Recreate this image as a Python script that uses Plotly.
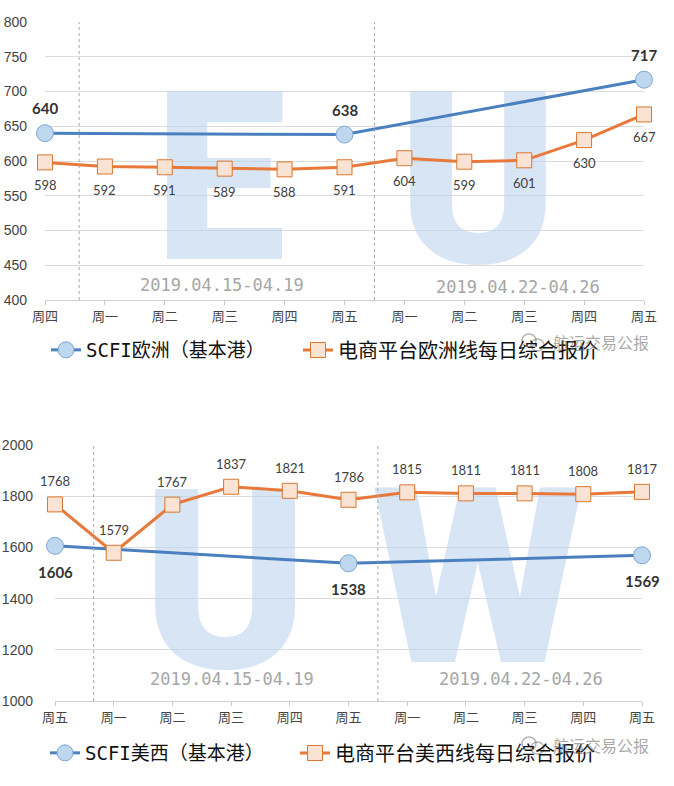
import plotly.graph_objects as go

# top chart: Europe
days_top = ['周四', '周一', '周二', '周三', '周四', '周五', '周一', '周二', '周三', '周四', '周五']
scfi_eu = [640, None, None, None, None, 638, None, None, None, None, 717]
ecom_eu = [598, 592, 591, 589, 588, 591, 604, 599, 601, 630, 667]
names_eu = ['SCFI欧洲（基本港）', '电商平台欧洲线每日综合报价']

# bottom chart: US west coast
days_bottom = ['周五', '周一', '周二', '周三', '周四', '周五', '周一', '周二', '周三', '周四', '周五']
scfi_usw = [1606, None, None, None, None, 1538, None, None, None, None, 1569]
ecom_usw = [1768, 1579, 1767, 1837, 1821, 1786, 1815, 1811, 1811, 1808, 1817]
names_usw = ['SCFI美西（基本港）', '电商平台美西线每日综合报价']

weeks = ['2019.04.15-04.19', '2019.04.22-04.26']
letters_top = ['E', 'U']
letters_bottom = ['U', 'W']
source = '航运交易公报'

W, H = 674, 786
BLUE_LINE = '#4a80c0'
BLUE_FILL = '#bdd7ee'
BLUE_EDGE = '#7ea6d6'
ORANGE_LINE = '#e8793a'
ORANGE_FILL = '#fbe3d3'
ORANGE_EDGE = '#d9772f'
CJK = 'Noto Sans CJK SC'
MONO = 'DejaVu Sans Mono, Noto Sans CJK SC'


def px_x(x0, x1):
    return [x0 / W, x1 / W]


def px_y(top, bottom):
    return [1 - bottom / H, 1 - top / H]


def legend_box(x_px, y_px, size):
    return dict(orientation='h', x=x_px / W, y=1 - y_px / H, xanchor='left', yanchor='middle',
                itemwidth=30, font=dict(family=MONO, size=size, color='#111111'),
                bgcolor='rgba(0,0,0,0)')


def point_labels(fig, xa, ya, values, shift, font):
    for i, v in enumerate(values):
        if v is None:
            continue
        fig.add_annotation(x=i, y=v, xref=xa, yref=ya, text=str(v), showarrow=False,
                           yshift=shift, font=font)


def add_panel(fig, xa, ya, legends, days, scfi, ecom, names, letters, letter_pos,
              letter_size, scfi_shift, ecom_shift):
    xs = list(range(len(days)))
    # big watermark letters, first so they sit under the lines
    fig.add_trace(go.Scatter(
        x=[p[0] for p in letter_pos], y=[p[1] for p in letter_pos], text=letters,
        mode='text', textposition='middle center', hoverinfo='skip', showlegend=False,
        textfont=dict(family='Roboto', size=letter_size, weight=900,
                      color='rgba(190,212,238,0.6)'),
        xaxis=xa, yaxis=ya))
    fig.add_trace(go.Scatter(
        x=xs, y=scfi, name=names[0], connectgaps=True, mode='lines+markers', cliponaxis=False,
        line=dict(color=BLUE_LINE, width=3),
        marker=dict(symbol='circle', size=17, color=BLUE_FILL, line=dict(color=BLUE_EDGE, width=1)),
        legend=legends[0], xaxis=xa, yaxis=ya))
    fig.add_trace(go.Scatter(
        x=xs, y=ecom, name=names[1], mode='lines+markers', cliponaxis=False,
        line=dict(color=ORANGE_LINE, width=3),
        marker=dict(symbol='square', size=15, color=ORANGE_FILL, line=dict(color=ORANGE_EDGE, width=1)),
        legend=legends[1], xaxis=xa, yaxis=ya))
    point_labels(fig, xa, ya, scfi, scfi_shift,
                 dict(family='Lato', size=15, weight='bold', color='#333333'))
    point_labels(fig, xa, ya, ecom, ecom_shift,
                 dict(family='Lato', size=13, color='#404040'))


fig = go.Figure()

add_panel(fig, 'x', 'y', ['legend', 'legend2'], days_top, scfi_eu, ecom_eu, names_eu,
          letters_top, [(2.92, 543), (7.23, 541)], [235, 242], 25, -23)
add_panel(fig, 'x2', 'y2', ['legend3', 'legend4'], days_bottom, scfi_usw, ecom_usw, names_usw,
          letters_bottom, [(2.9, 1375), (7.21, 1393)], [250, 245], -26, 23)

xaxis_style = dict(range=[0, 10], tickmode='array', tickvals=list(range(11)), automargin=False,
                   showgrid=False, zeroline=False, showline=True, linecolor='#d0d0d0',
                   ticks='outside', ticklen=4, tickcolor='#c8c8c8',
                   tickfont=dict(family=CJK, size=13, color='#444444'))
yaxis_style = dict(showgrid=True, gridcolor='#dcdcdc', gridwidth=1, zeroline=False, automargin=False,
                   showline=False, ticks='', tickfont=dict(family='Liberation Sans', size=14, color='#444444'))

fig.update_layout(
    width=W, height=H, margin=dict(l=0, r=0, t=0, b=0, autoexpand=False),
    paper_bgcolor='white', plot_bgcolor='white',
    xaxis=dict(domain=px_x(45, 644), ticktext=days_top, anchor='y', **xaxis_style),
    yaxis=dict(domain=px_y(22, 300), range=[400, 800], dtick=50, anchor='x',
               ticklabelstandoff=17, **yaxis_style),
    xaxis2=dict(domain=px_x(55, 642), ticktext=days_bottom, anchor='y2', **xaxis_style),
    yaxis2=dict(domain=px_y(445, 701), range=[1000, 2000], dtick=200, anchor='x2',
                ticklabelstandoff=21, **yaxis_style),
    legend=legend_box(46, 350, 19),
    legend2=legend_box(298, 350, 20),
    legend3=legend_box(45, 753, 19),
    legend4=legend_box(295, 753, 20),
    showlegend=True,
)

# dotted week separators
dot = dict(color='#a8a8a8', width=1, dash='dot')
for xv in [0.57, 5.5]:
    fig.add_shape(type='line', xref='x', yref='y', x0=xv, x1=xv, y0=400, y1=800, line=dot)
for xv in [0.66, 5.5]:
    fig.add_shape(type='line', xref='x2', yref='y2', x0=xv, x1=xv, y0=1000, y1=2086, line=dot)

# week captions
for xv, yv, txt in [(2.95, 422, weeks[0]), (7.9, 419, weeks[1])]:
    fig.add_annotation(x=xv, y=yv, xref='x', yref='y', text=txt, showarrow=False,
                       font=dict(family=MONO, size=17, color='#a6a6a6'))
for xv, yv, txt in [(3.02, 1086, weeks[0]), (7.94, 1086, weeks[1])]:
    fig.add_annotation(x=xv, y=yv, xref='x2', yref='y2', text=txt, showarrow=False,
                       font=dict(family=MONO, size=17, color='#a6a6a6'))

# source watermark with a small chat-bubble mark
mark = dict(color='rgba(120,120,120,0.55)', width=1.5)
for yp in [342, 745]:
    fig.add_annotation(x=601 / W, y=1 - yp / H, xref='paper', yref='paper', text=source,
                       xanchor='center', yanchor='middle', showarrow=False,
                       font=dict(family=CJK, size=16, color='rgba(110,110,110,0.6)'))
    fig.add_shape(type='circle', xref='paper', yref='paper', line=mark,
                  x0=522 / W, x1=536 / W, y0=1 - (yp + 5) / H, y1=1 - (yp - 8) / H)
    fig.add_shape(type='circle', xref='paper', yref='paper', line=mark,
                  x0=531 / W, x1=544 / W, y0=1 - (yp + 9) / H, y1=1 - (yp - 3) / H)

fig.write_html("out.html", config={'displayModeBar': False},
               post_script="document.body.style.margin = '0';")
